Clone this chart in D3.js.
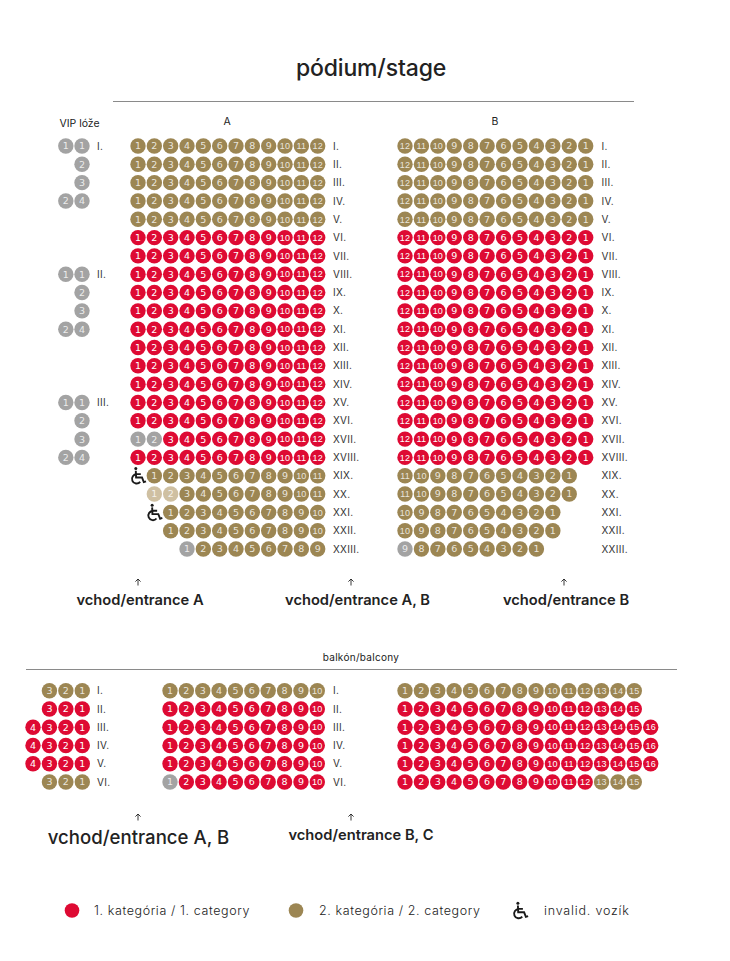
<!DOCTYPE html>
<html><head><meta charset="utf-8">
<script src="https://cdn.jsdelivr.net/npm/d3@7"></script>
<style>html,body{margin:0;background:#fff}svg{display:block}text{font-family:Inter,"Noto Sans",sans-serif;fill:#222}</style>
</head><body><div id="c"></div>
<script>
const romanRows=["I.","II.","III.","IV.","V.","VI.","VII.","VIII.","IX.","X.","XI.","XII.","XIII.","XIV.","XV.","XVI.","XVII.","XVIII.","XIX.","XX.","XXI.","XXII.","XXIII."];
// g = 2nd category, r = 1st category, n = grey, l = pale
const hallA=["gggggggggggg","gggggggggggg","gggggggggggg","gggggggggggg","gggggggggggg","rrrrrrrrrrrr","rrrrrrrrrrrr","rrrrrrrrrrrr","rrrrrrrrrrrr","rrrrrrrrrrrr","rrrrrrrrrrrr","rrrrrrrrrrrr","rrrrrrrrrrrr","rrrrrrrrrrrr","rrrrrrrrrrrr","rrrrrrrrrrrr","nnrrrrrrrrrr","rrrrrrrrrrrr","ggggggggggg","llggggggggg","gggggggggg","gggggggggg","ngggggggg"];
const hallB=["gggggggggggg","gggggggggggg","gggggggggggg","gggggggggggg","gggggggggggg","rrrrrrrrrrrr","rrrrrrrrrrrr","rrrrrrrrrrrr","rrrrrrrrrrrr","rrrrrrrrrrrr","rrrrrrrrrrrr","rrrrrrrrrrrr","rrrrrrrrrrrr","rrrrrrrrrrrr","rrrrrrrrrrrr","rrrrrrrrrrrr","rrrrrrrrrrrr","rrrrrrrrrrrr","ggggggggggg","ggggggggggg","gggggggggg","gggggggggg","ngggggggg"];
const vipRows=[0,1,2,3,7,8,9,10,14,15,16,17];
const vipLeft=[1,null,null,2,1,null,null,2,1,null,null,2];
const vipRight=[1,2,3,4,1,2,3,4,1,2,3,4];
const vipLabels=[["I.",0],["II.",7],["III.",14]];
const wheelchairRows=[18,20];
const balconyRoman=["I.","II.","III.","IV.","V.","VI."];
const balLeft=["ggg","rrr","rrrr","rrrr","rrrr","ggg"];
const balMid=["gggggggggg","rrrrrrrrrr","rrrrrrrrrr","rrrrrrrrrr","rrrrrrrrrr","nrrrrrrrrr"];
const balRight=["ggggggggggggggg","rrrrrrrrrrrrrrr","rrrrrrrrrrrrrrrr","rrrrrrrrrrrrrrrr","rrrrrrrrrrrrrrrr","rrrrrrrrrrrrggg"];
const colors={r:"#DE0A33",g:"#9C8653",n:"#A3A3A3",l:"#CFC0A2"};

const svg=d3.select("#c").append("svg").attr("width",730).attr("height",961);
const y=d3.scaleLinear().domain([0,22]).range([146,549]);
const yB=d3.scaleLinear().domain([0,5]).range([690.7,782]);
const xA=d3.scaleLinear().domain([1,12]).range([138,317.7]);
const xB=d3.scaleLinear().domain([1,12]).range([405,585.7]);
const xVip=d3.scaleLinear().domain([0,1]).range([65.8,82]);
const xBL=d3.scaleLinear().domain([1,4]).range([82.3,33]);
const xBM=d3.scaleLinear().domain([1,10]).range([170,317.3]);
const xBR=d3.scaleLinear().domain([1,16]).range([405,650.7]);
const R=7.7;

function seats(data){
  const g=svg.append("g").selectAll("g").data(data).join("g").attr("transform",d=>`translate(${d.x},${d.y})`);
  g.append("circle").attr("r",R).attr("fill",d=>colors[d.c]);
  g.append("text").attr("text-anchor","middle").attr("dy","0.36em")
   .attr("font-size",d=>d.n>=10?9:9.5).attr("font-weight",400)
   .style("font-family",d=>d.n>=10?'"Liberation Sans"':'"DejaVu Sans"')
   .style("letter-spacing",d=>d.n>=10?"0.2px":"0").style("fill","#fff").style("fill-opacity",d=>d.c==="r"?1:0.8).text(d=>d.n);
}
const flat=(rows,f)=>rows.flatMap((s,i)=>Array.from(s,(c,j)=>f(c,j,i,s.length)));
seats(flat(hallA,(c,j,i,n)=>({c,n:j+1,x:xA(13-n+j),y:y(i)})));
seats(flat(hallB,(c,j,i,n)=>({c,n:n-j,x:xB(j+1),y:y(i)})));
seats(vipRows.flatMap((r,i)=>{
  const o=[{c:"n",n:vipRight[i],x:xVip(1),y:y(r)}];
  if(vipLeft[i]!==null)o.push({c:"n",n:vipLeft[i],x:xVip(0),y:y(r)});
  return o;}));
seats(flat(balLeft,(c,j,i)=>({c,n:j+1,x:xBL(j+1),y:yB(i)})));
seats(flat(balMid,(c,j,i)=>({c,n:j+1,x:xBM(j+1),y:yB(i)})));
seats(flat(balRight,(c,j,i)=>({c,n:j+1,x:xBR(j+1),y:yB(i)})));

function labels(data,x,yf){
  svg.append("g").selectAll("text").data(data).join("text").attr("x",x).attr("y",(d,i)=>yf(d,i)).attr("dy","0.36em")
    .attr("font-size",10).style("letter-spacing","0.3px").attr("font-weight",400).style("fill","#333").text(d=>Array.isArray(d)?d[0]:d);
}
labels(romanRows,333,(d,i)=>y(i));
labels(romanRows,601.5,(d,i)=>y(i));
labels(vipLabels,97,d=>y(d[1]));
labels(balconyRoman,97,(d,i)=>yB(i));
labels(balconyRoman,333,(d,i)=>yB(i));

function wheelchair(cx,cy,s){
  const g=svg.append("g").attr("transform",`translate(${cx},${cy}) scale(${s})`).attr("fill","none").attr("stroke","#1a1a1a").attr("stroke-width",1.9);
  g.append("circle").attr("cx",-2.6).attr("cy",-7.2).attr("r",1.5).attr("fill","#1a1a1a").attr("stroke","none");
  g.append("path").attr("d","M-2.6,-5 L-2.3,1.8 H3.6 L5.4,6.4 L7.6,5.6 M-2.4,-1.6 H2.4");
  g.append("path").attr("d",d3.arc().innerRadius(4.6).outerRadius(4.6).startAngle(Math.PI*0.72).endAngle(Math.PI*2.02)()).attr("transform","translate(-1.8,3.2)");
}
wheelchairRows.forEach(r=>wheelchair(xA(13-hallA[r].length-1)+0.4,y(r),1));
wheelchair(520.5,910.5,1);

function text(t,x,yy,size,weight,anchor,ls){
  svg.append("text").attr("x",x).attr("y",yy).attr("dy","0.36em").attr("font-size",size).attr("font-weight",weight)
    .attr("text-anchor",anchor||"middle").style("letter-spacing",(ls||0)+"px").text(t);
}
text("pódium/stage",371,67.5,23,500,"middle",-0.15);
text("VIP lóže",79.5,123,10.5,400);
text("A",227,121,10.5,400);
text("B",495,121,10.5,400);
text("balkón/balcony",361,657,10,400,"middle",0.3);
svg.append("line").attr("x1",113).attr("x2",634).attr("y1",101.5).attr("y2",101.5).attr("stroke","#8a8a8a");
svg.append("line").attr("x1",26).attr("x2",677).attr("y1",669.5).attr("y2",669.5).attr("stroke","#8a8a8a");
[[138,582],[351,582],[564,582],[138,817],[351,817]].forEach(p=>{
  svg.append("path").attr("transform",`translate(${p[0]},${p[1]})`).attr("fill","none").attr("stroke","#222").attr("stroke-width",0.9)
    .attr("d","M0,3.5 V-3 M-2.6,-0.4 L0,-3 L2.6,-0.4");
});
text("vchod/entrance A",140,600,14.7,600);
text("vchod/entrance A, B",357.5,600,14.7,600);
text("vchod/entrance B",566,600,14.7,600);
text("vchod/entrance A, B",138.5,837,18.6,500);
text("vchod/entrance B, C",361,835,14.7,600);
const leg=svg.append("g");
leg.append("circle").attr("cx",72).attr("cy",910.5).attr("r",7.3).attr("fill",colors.r);
leg.append("circle").attr("cx",296).attr("cy",910.5).attr("r",7.3).attr("fill",colors.g);
text("1. kategória / 1. category",94,910.5,12.5,300,"start",0.6);
text("2. kategória / 2. category",319,910.5,12.5,300,"start",0.6);
text("invalid. vozík",544,910.5,12.5,300,"start",0.8);
</script></body></html>
